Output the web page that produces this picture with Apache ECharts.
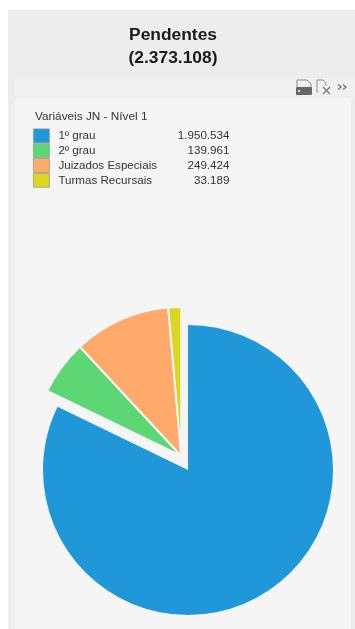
<!DOCTYPE html>
<html>
<head>
<meta charset="utf-8">
<style>
html,body{margin:0;padding:0;background:#fff}
#chart{width:355px;height:629px}
</style>
<script src="https://cdn.jsdelivr.net/npm/echarts@6/dist/echarts.min.js"></script>
</head>
<body>
<div id="chart"></div>
<script>
// Pending cases by court level
const categories = ['1º grau', '2º grau', 'Juizados Especiais', 'Turmas Recursais'];
const values = [1950534, 139961, 249424, 33189];
const valueLabels = ['1.950.534', '139.961', '249.424', '33.189'];
const sliceColors = ['#1f97d9', '#5dd674', '#ffa96b', '#dbd61f'];
const chartTitle = 'Pendentes\n(2.373.108)';
const legendTitle = 'Variáveis JN - Nível 1';

const FONT = '"Liberation Sans", Arial, sans-serif';

// The first category stays in place; the others are pulled out together as one group.
const pieItems = (visible) => categories.map((name, i) => ({
  name,
  value: values[i],
  itemStyle: visible(i)
    ? { color: sliceColors[i], borderColor: '#f5f5f5', borderWidth: i === 0 ? 0 : 2 }
    : { color: 'transparent', borderWidth: 0 }
}));

const pieBase = {
  type: 'pie',
  startAngle: 90,
  clockwise: true,
  label: { show: false },
  labelLine: { show: false },
  emphasis: { disabled: true },
  silent: true,
  avoidLabelOverlap: false
};

const panels = [
  { shape: { x: 8, y: 10, width: 347, height: 619 }, style: { fill: '#ededed' } },
  { shape: { x: 15, y: 78, width: 340, height: 19 }, style: { fill: '#f0f0f0' } },
  { shape: { x: 15, y: 97, width: 336, height: 532 }, style: { fill: '#f5f5f5' } },
  { shape: { x: 15, y: 96.5, width: 336, height: 0.8 }, style: { fill: '#e2e2e2' } }
].map(p => ({ type: 'rect', silent: true, z: -10, ...p }));

// Toolbar: print, export to spreadsheet, expand
const toolbar = [
  { type: 'polyline', shape: { points: [[297, 87], [297, 80], [307, 80], [311, 84], [311, 87]] },
    style: { stroke: '#8a8a8a', lineWidth: 1, fill: 'none' } },
  { type: 'rect', shape: { x: 296, y: 87, width: 16, height: 8, r: 1 }, style: { fill: '#666' } },
  { type: 'rect', shape: { x: 298, y: 90, width: 2, height: 2 }, style: { fill: '#ddd' } },
  { type: 'polyline', shape: { points: [[318, 92], [317, 92], [317, 80], [323, 80], [326, 83], [326, 86]] },
    style: { stroke: '#8f8f8f', lineWidth: 1, fill: 'none' } },
  { type: 'line', shape: { x1: 323, y1: 87, x2: 330, y2: 94 }, style: { stroke: '#777', lineWidth: 1.2 } },
  { type: 'line', shape: { x1: 330, y1: 87, x2: 323, y2: 94 }, style: { stroke: '#777', lineWidth: 1.2 } },
  { type: 'polyline', shape: { points: [[338, 84.5], [341, 87], [338, 89.5]] },
    style: { stroke: '#777', lineWidth: 1.4, fill: 'none' } },
  { type: 'polyline', shape: { points: [[343, 84.5], [346, 87], [343, 89.5]] },
    style: { stroke: '#777', lineWidth: 1.4, fill: 'none' } }
].map(g => ({ silent: true, ...g }));

const chart = echarts.init(document.getElementById('chart'), null, { renderer: 'canvas' });
chart.setOption({
  animation: false,
  backgroundColor: '#fff',
  title: {
    text: chartTitle,
    left: 168,
    top: 19,
    textAlign: 'center',
    textStyle: { fontFamily: FONT, fontSize: 17.4, fontWeight: 'bold', color: '#1a1a1a', lineHeight: 23 }
  },
  legend: {
    orient: 'vertical',
    left: 33,
    top: 128.5,
    padding: 0,
    itemGap: 0,
    itemWidth: 16,
    itemHeight: 14,
    icon: 'rect',
    selectedMode: false,
    data: categories.map((name, i) => ({
      name,
      itemStyle: { color: sliceColors[i], borderColor: '#9a9a9a', borderWidth: 0.8 }
    })),
    formatter: (name) => `{n|${name}}{v|${valueLabels[categories.indexOf(name)]}}`,
    textStyle: {
      fontFamily: FONT,
      rich: {
        n: { fontFamily: FONT, fontSize: 11.6, color: '#333', width: 100, padding: [0, 0, 0, 4], lineHeight: 14.5 },
        v: { fontFamily: FONT, fontSize: 11.6, color: '#333', width: 71, align: 'right', lineHeight: 14.5 }
      }
    }
  },
  graphic: [
    ...panels,
    ...toolbar,
    { type: 'text', silent: true, x: 35, y: 111,
      style: { text: legendTitle, fill: '#333', font: '11.8px ' + FONT } }
  ],
  series: [
    { ...pieBase, name: 'Pendentes', center: [188, 470], radius: [0, 145], data: pieItems(i => i === 0) },
    { ...pieBase, name: 'Demais', center: [181.3, 456], radius: [0, 149], data: pieItems(i => i !== 0) }
  ]
});
</script>
</body>
</html>
